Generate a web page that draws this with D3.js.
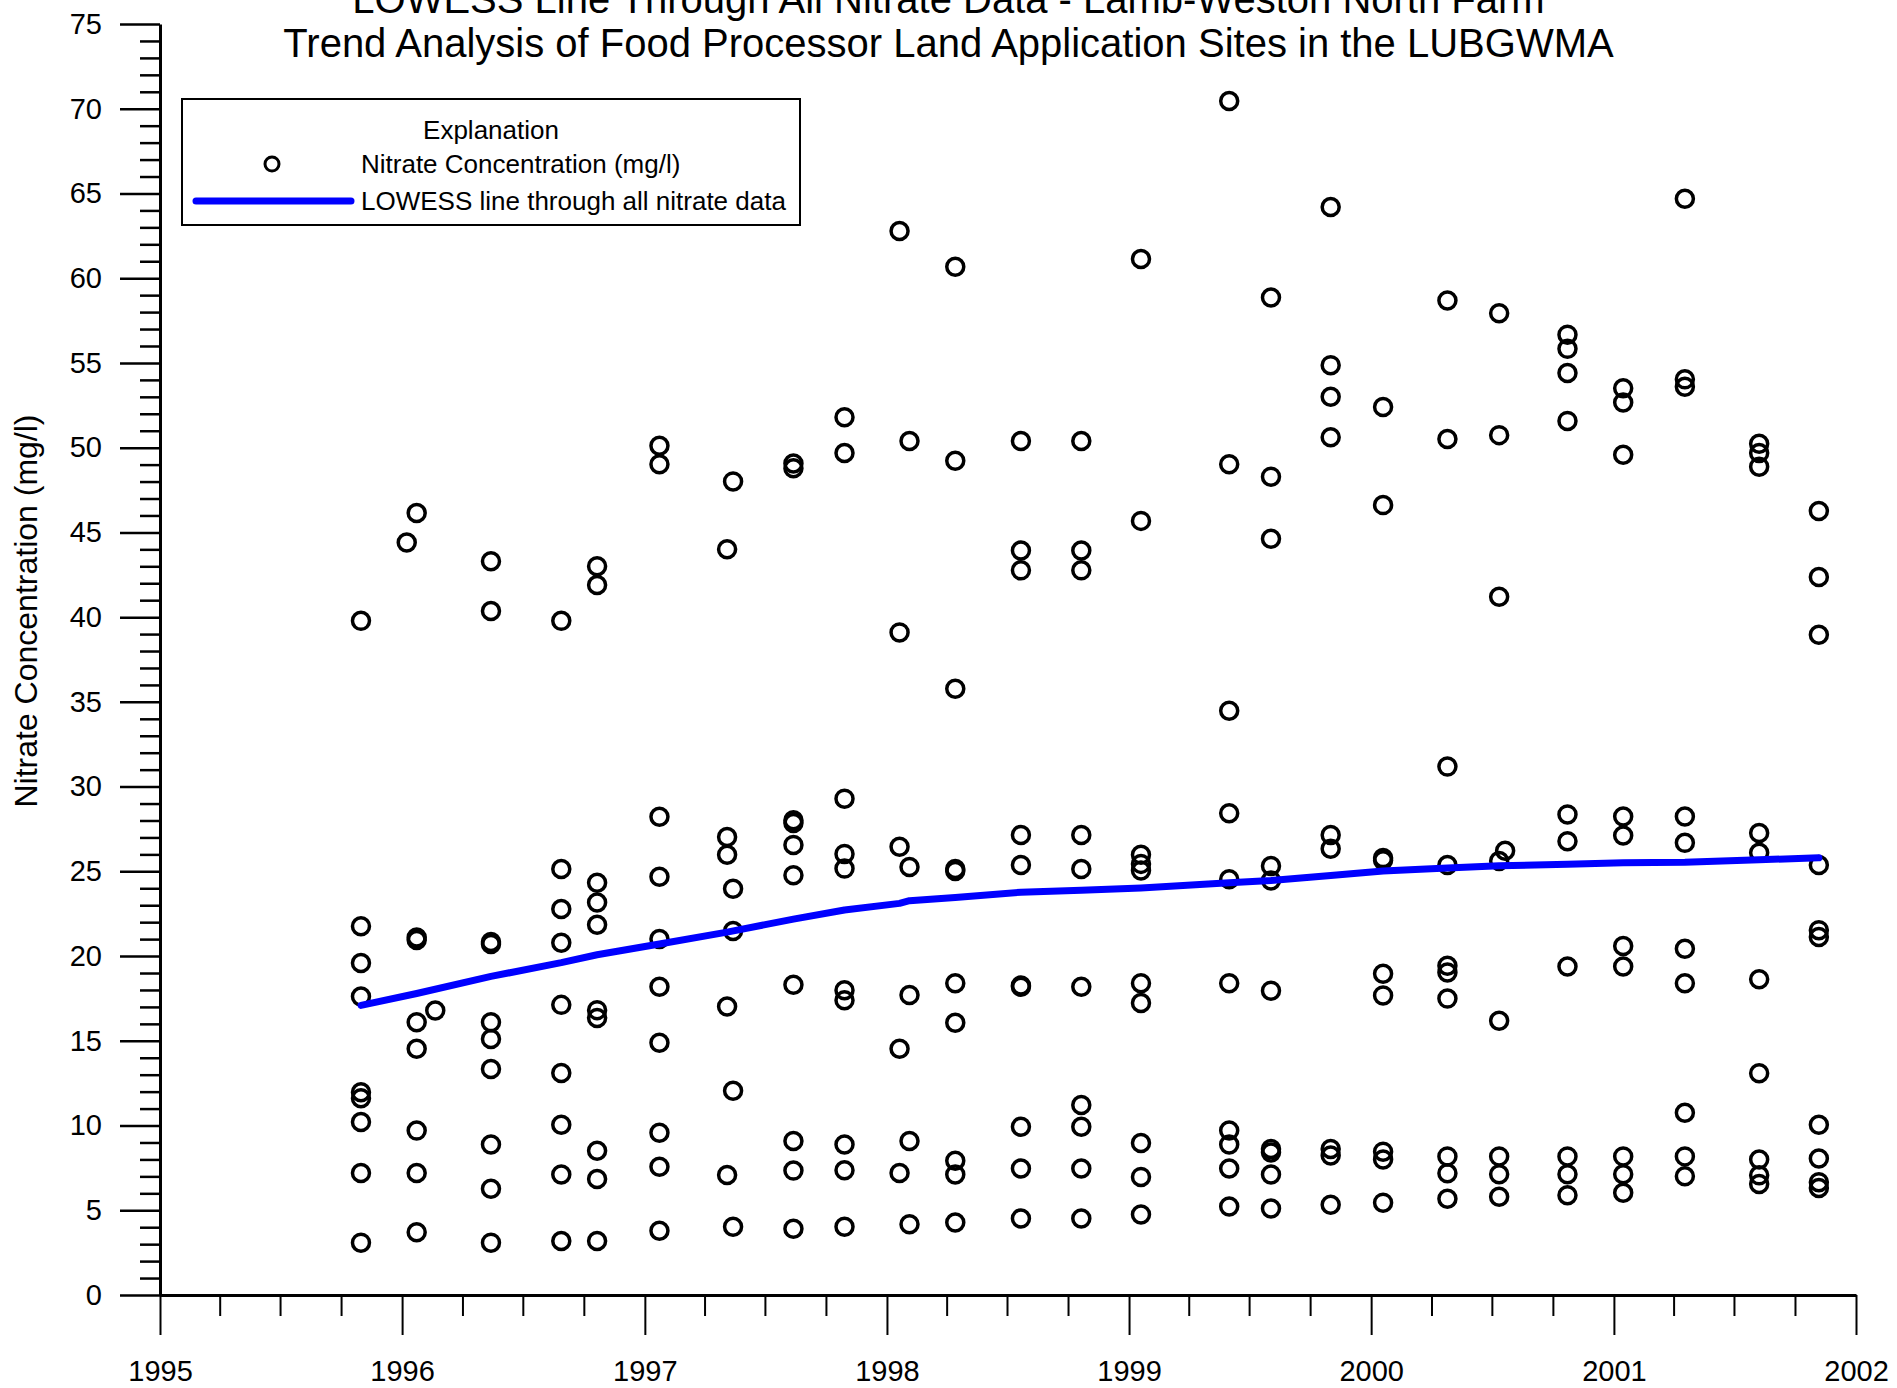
<!DOCTYPE html>
<html>
<head>
<meta charset="utf-8">
<script src="https://cdn.jsdelivr.net/npm/d3@7"></script>
<style>
  body { margin: 0; background: #fff; }
  svg { display: block; font-family: "Liberation Sans", Arial, sans-serif; }
</style>
</head>
<body>
<svg id="chart"></svg>
<script>
const w = 1897;
const h = 1388;

// sampling dates (one column of circles per date)
const sampleDates = [
  "1995-10-31", "1996-01-08", "1996-01-23", "1996-02-20", "1996-05-14", "1996-08-28",
  "1996-10-21", "1997-01-23", "1997-05-05", "1997-05-14", "1997-08-13", "1997-10-29",
  "1998-01-20", "1998-02-04", "1998-04-14", "1998-07-22", "1998-10-21", "1999-01-19",
  "1999-06-01", "1999-08-03", "1999-11-01", "2000-01-19", "2000-04-25", "2000-07-12",
  "2000-07-21", "2000-10-23", "2001-01-15", "2001-04-18", "2001-08-08", "2001-11-06"
];

// nitrate (mg/l) at each sampling date, all wells
const nitrateValues = [
  [39.78, 21.76, 19.59, 17.61, 11.96, 11.61, 10.21, 7.20, 3.09],
  [44.40],
  [46.15, 21.10, 20.95, 16.09, 14.53, 9.70, 7.20, 3.70],
  [16.79],
  [43.30, 40.36, 20.83, 20.71, 16.09, 15.11, 13.34, 8.88, 6.27, 3.09],
  [39.78, 25.14, 22.78, 20.78, 17.12, 13.10, 10.05, 7.11, 3.19],
  [43.00, 41.90, 24.33, 23.16, 21.85, 16.81, 16.35, 8.51, 6.85, 3.19],
  [50.11, 49.02, 28.22, 24.68, 21.01, 18.19, 14.88, 9.58, 7.57, 3.79],
  [44.00, 27.03, 25.98, 17.02, 7.08],
  [48.01, 23.97, 21.48, 12.05, 4.03],
  [49.06, 48.78, 28.01, 27.85, 26.56, 24.77, 18.31, 9.09, 7.34, 3.91],
  [51.79, 49.69, 29.29, 26.03, 25.16, 17.98, 17.40, 8.88, 7.36, 4.03],
  [62.78, 39.10, 26.45, 14.53, 7.20],
  [50.39, 25.26, 17.70, 9.09, 4.17],
  [60.68, 49.23, 35.78, 25.14, 25.02, 18.40, 16.07, 7.92, 7.11, 4.28],
  [50.39, 43.93, 42.76, 27.15, 25.37, 18.26, 18.19, 9.93, 7.46, 4.52],
  [50.39, 43.93, 42.76, 27.15, 25.14, 18.19, 11.21, 9.93, 7.46, 4.52],
  [61.13, 45.68, 25.98, 25.44, 25.05, 18.40, 17.23, 8.97, 6.97, 4.75],
  [70.46, 49.02, 34.47, 28.43, 24.53, 18.40, 9.70, 8.88, 7.46, 5.22],
  [58.86, 48.29, 44.63, 25.31, 24.46, 17.96, 8.62, 8.41, 7.11, 5.10],
  [64.20, 54.87, 53.01, 50.62, 27.15, 26.33, 8.62, 8.23, 5.33],
  [52.40, 46.61, 25.78, 25.66, 18.96, 17.68, 8.46, 7.99, 5.45],
  [58.68, 50.51, 31.18, 25.37, 19.43, 19.03, 17.49, 8.18, 7.18, 5.68],
  [57.93, 50.74, 41.20, 25.61, 16.18, 8.18, 7.13, 5.80],
  [26.21],
  [56.67, 55.83, 54.41, 51.58, 28.36, 26.77, 19.38, 8.18, 7.13, 5.89],
  [53.50, 52.66, 49.58, 28.24, 27.12, 20.59, 19.38, 8.18, 7.13, 6.03],
  [64.69, 54.03, 53.59, 28.24, 26.68, 20.43, 18.40, 10.75, 8.18, 7.01],
  [50.23, 49.69, 48.88, 27.26, 26.10, 18.63, 13.08, 8.00, 7.06, 6.55],
  [46.26, 42.37, 38.96, 25.37, 21.53, 21.13, 10.05, 8.06, 6.66, 6.31]
];

// LOWESS fit
const lowessDates = [
  "1995-10-31", "1996-01-23", "1996-05-14", "1996-08-28", "1996-10-21", "1997-01-23",
  "1997-05-05", "1997-08-13", "1997-10-29", "1998-01-20", "1998-02-04", "1998-04-14",
  "1998-07-22", "1998-10-21", "1999-01-19", "1999-06-01", "1999-08-03", "1999-11-01",
  "2000-01-19", "2000-04-25", "2000-07-12", "2000-10-23", "2001-01-15", "2001-04-18",
  "2001-08-08", "2001-11-06"
];
const lowessValues = [
  17.09, 17.79, 18.80, 19.61, 20.08, 20.71, 21.41, 22.18, 22.72, 23.11, 23.27, 23.46,
  23.77, 23.88, 24.02, 24.33, 24.46, 24.75, 25.02, 25.19, 25.33, 25.42, 25.51, 25.54,
  25.68, 25.80
];

const yMajorTicks = d3.range(0, 76, 5);
const yMinorTicks = d3.range(0, 76, 1);

const titleLines = [
  "LOWESS Line Through All Nitrate Data - Lamb-Weston North Farm",
  "Trend Analysis of Food Processor Land Application Sites in the LUBGWMA"
];
const yTitle = "Nitrate Concentration (mg/l)";
const legendTitle = "Explanation";
const legendLabels = ["Nitrate Concentration (mg/l)", "LOWESS line through all nitrate data"];

const parseDate = d3.timeParse("%Y-%m-%d");

const svg = d3.select("#chart")
  .attr("width", w)
  .attr("height", h)
  .attr("viewBox", [0, 0, w, h]);

const x = d3.scaleTime()
  .domain([new Date(1995, 0, 1), new Date(2002, 0, 1)])
  .range([160, 1856]);

const y = d3.scaleLinear()
  .domain([0, 75])
  .range([1295, 24]);

const points = [];
sampleDates.forEach((d, i) => {
  for (const v of nitrateValues[i]) {
    points.push({ date: parseDate(d), value: v });
  }
});

// minor ticks first so the axis lines sit on top
const quarterTicks = d3.timeMonth.every(3).range(new Date(1995, 0, 1), new Date(2002, 0, 2))
  .filter(d => d.getMonth() !== 0);

svg.append("g")
  .attr("transform", `translate(0,${y(0)})`)
  .call(d3.axisBottom(x).tickValues(quarterTicks).tickSize(21).tickFormat(""))
  .call(g => g.select(".domain").remove())
  .selectAll("line").attr("stroke-width", 2);

svg.append("g")
  .attr("transform", `translate(${x.range()[0]},0)`)
  .call(d3.axisLeft(y).tickValues(yMinorTicks.filter(v => v % 5 !== 0)).tickSize(20).tickFormat(""))
  .call(g => g.select(".domain").remove())
  .selectAll("line").attr("stroke-width", 2.5);

const xAxis = svg.append("g")
  .attr("transform", `translate(0,${y(0)})`)
  .call(d3.axisBottom(x)
    .ticks(d3.timeYear.every(1))
    .tickSize(40)
    .tickSizeOuter(0)
    .tickPadding(25)
    .tickFormat(d3.timeFormat("%Y")));
xAxis.select(".domain").attr("stroke-width", 3);
xAxis.selectAll(".tick line").attr("stroke-width", 2);
xAxis.selectAll("text")
  .attr("font-family", "'Liberation Sans', Arial, sans-serif")
  .attr("font-size", 29)
  .attr("fill", "#000");

const yAxis = svg.append("g")
  .attr("transform", `translate(${x.range()[0]},0)`)
  .call(d3.axisLeft(y)
    .tickValues(yMajorTicks)
    .tickSize(40)
    .tickSizeOuter(0)
    .tickPadding(18));
yAxis.select(".domain").attr("stroke-width", 3);
yAxis.selectAll(".tick line").attr("stroke-width", 2.5);
yAxis.selectAll("text")
  .attr("font-family", "'Liberation Sans', Arial, sans-serif")
  .attr("font-size", 29)
  .attr("fill", "#000");

// data circles
svg.append("g")
  .selectAll("circle")
  .data(points)
  .enter()
  .append("circle")
  .attr("cx", d => x(d.date))
  .attr("cy", d => y(d.value))
  .attr("r", 8.5)
  .attr("fill", "none")
  .attr("stroke", "#000")
  .attr("stroke-width", 3.5);

// LOWESS line
const lowess = lowessDates.map((d, i) => ({ date: parseDate(d), value: lowessValues[i] }));
svg.append("path")
  .datum(lowess)
  .attr("d", d3.line().x(d => x(d.date)).y(d => y(d.value)))
  .attr("fill", "none")
  .attr("stroke", "#0000ff")
  .attr("stroke-width", 7)
  .attr("stroke-linejoin", "round")
  .attr("stroke-linecap", "round");

// titles
svg.append("g")
  .selectAll("text")
  .data(titleLines)
  .enter()
  .append("text")
  .text(d => d)
  .attr("x", w / 2)
  .attr("y", (d, i) => 13 + i * 44)
  .attr("text-anchor", "middle")
  .attr("font-size", 40)
  .attr("fill", "#000");

svg.append("text")
  .text(yTitle)
  .attr("transform", "translate(37,611) rotate(-90)")
  .attr("text-anchor", "middle")
  .attr("font-size", 32)
  .attr("fill", "#000");

// legend
const legend = svg.append("g");
legend.append("rect")
  .attr("x", 182)
  .attr("y", 99)
  .attr("width", 618)
  .attr("height", 126)
  .attr("fill", "#fff")
  .attr("stroke", "#000")
  .attr("stroke-width", 2);
legend.append("text")
  .text(legendTitle)
  .attr("x", 491)
  .attr("y", 139)
  .attr("text-anchor", "middle")
  .attr("font-size", 26);
legend.selectAll("text.item")
  .data(legendLabels)
  .enter()
  .append("text")
  .attr("class", "item")
  .text(d => d)
  .attr("x", 361)
  .attr("y", (d, i) => 173 + i * 37)
  .attr("font-size", 26);
legend.append("circle")
  .attr("cx", 272)
  .attr("cy", 164)
  .attr("r", 7)
  .attr("fill", "none")
  .attr("stroke", "#000")
  .attr("stroke-width", 3);
legend.append("line")
  .attr("x1", 196)
  .attr("x2", 351)
  .attr("y1", 201)
  .attr("y2", 201)
  .attr("stroke", "#0000ff")
  .attr("stroke-width", 7)
  .attr("stroke-linecap", "round");
</script>
</body>
</html>
